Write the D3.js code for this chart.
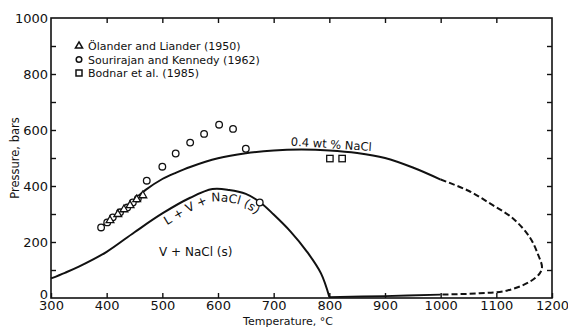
<!DOCTYPE html>
<html><head><meta charset="utf-8">
<script src="https://cdn.jsdelivr.net/npm/d3@7/dist/d3.min.js"></script>
<style>
body{margin:0;background:#fff}
text{font-family:"DejaVu Sans",sans-serif;fill:#111}
</style>
</head><body>
<svg id="c" width="568" height="328"></svg>
<script>
// ---- data ----
const xTickValues=[300,400,500,600,700,800,900,1000,1100,1200];
const yTickLabels=[0,200,400,600,800,1000];
const yTickMarks=[100,200,300,400,500,600,700,800,900];
// 0.4 wt % NaCl curve (solid part)
const upperT=[390,410,430,450,470,500,525,550,600,650,700,750,800,850,900,950,1000];
const upperP=[255,285,318,352,386,425,448,468,499,517,527,530,527,518,500,466,423];
// dashed extension (loop back)
const dashT=[1000,1050,1090,1130,1160,1175,1182,1178,1160,1120,1070,1000];
const dashP=[423,383,336,284,217,155,110,88,58,27,17,12];
// lower solid branch 800-1000
const baseT=[800,900,1000];
const baseP=[3,7,12];
// L + V + NaCl(s) curve
const lowerT=[300,325,350,400,450,500,550,590,620,650,675,700,730,760,785,800];
const lowerP=[70,90,112,165,235,302,358,389,386,372,343,298,238,165,88,4];
// Sourirajan and Kennedy (1962) circles
const circT=[390,401,411,424,437,447,456,472,500,524,550,575,602,627,650,675];
const circP=[252,270,288,306,323,341,355,419,469,516,555,586,619,604,533,341];
// Ölander and Liander (1950) triangles
const triT=[406,420,431,442,454,465];
const triP=[277,299,316,331,352,366];
// Bodnar et al. (1985) squares
const sqT=[801,823];
const sqP=[498,498];
const legendLabels=["Ölander and Liander (1950)","Sourirajan and Kennedy (1962)","Bodnar et al. (1985)"];

// ---- layout ----
const svg=d3.select("#c");
const L=51,R=552,T=18,B=298;
const x=d3.scaleLinear().domain([300,1200]).range([L,R]);
const y=d3.scaleLinear().domain([0,1000]).range([B,T]);

// frame
svg.append("rect").attr("x",L).attr("y",T).attr("width",R-L).attr("height",B-T)
  .attr("fill","none").attr("stroke","#111").attr("stroke-width",1.6);

// axes
svg.append("g").attr("transform",`translate(0,${B})`)
  .call(d3.axisBottom(x).tickValues(xTickValues).tickSizeInner(-5).tickSizeOuter(0).tickPadding(3).tickFormat(d3.format("d")));
const yl=svg.append("g").attr("transform",`translate(${L},0)`)
  .call(d3.axisLeft(y).tickValues(yTickLabels).tickSizeInner(0).tickSizeOuter(0).tickPadding(3).tickFormat(d3.format("d")));
yl.selectAll(".tick text").filter(d=>d===0).attr("dy","0.05em");
svg.append("g").attr("transform",`translate(${L},0)`)
  .call(d3.axisLeft(y).tickValues(yTickMarks).tickSizeInner(-5).tickSizeOuter(0).tickFormat(""));
svg.append("g").attr("transform",`translate(${R},0)`)
  .call(d3.axisRight(y).tickValues(yTickMarks).tickSizeInner(-5).tickSizeOuter(0).tickFormat(""));
svg.append("g").attr("transform",`translate(0,${T})`)
  .call(d3.axisTop(x).tickValues(xTickValues.slice(1,-1)).tickSizeInner(-5).tickSizeOuter(0).tickFormat(""));
svg.selectAll(".domain").remove();
svg.selectAll(".tick line").attr("stroke","#111").attr("stroke-width",1.4);
svg.selectAll(".tick text").attr("font-size",13).attr("font-family","DejaVu Sans").attr("fill","#111");

// axis titles
svg.append("text").attr("x",288).attr("y",325).attr("text-anchor","middle")
  .attr("font-size",11).text("Temperature, °C");
svg.append("text").attr("transform","translate(19,158) rotate(-90)").attr("text-anchor","middle")
  .attr("font-size",11.5).text("Pressure, bars");

// curves
const zip=(a,b)=>a.map((v,i)=>[v,b[i]]);
const lineC=d3.line().x(d=>x(d[0])).y(d=>y(d[1])).curve(d3.curveCatmullRom.alpha(0.5));
const curveG=svg.append("g").attr("fill","none").attr("stroke","#111");
curveG.append("path").attr("d",lineC(zip(upperT,upperP))).attr("stroke-width",2);
curveG.append("path").attr("d",lineC(zip(dashT,dashP))).attr("stroke-width",2).attr("stroke-dasharray","6,3");
curveG.append("path").attr("d",lineC(zip(baseT,baseP))).attr("stroke-width",1.8);
const lowerPts=zip(lowerT,lowerP);
const lowerPath=curveG.append("path").attr("d",lineC(lowerPts)).attr("stroke-width",2);

// markers
const mk=svg.append("g").attr("fill","#fff").attr("stroke","#111").attr("stroke-width",1.3);
mk.selectAll("circle.c").data(zip(circT,circP)).join("circle").attr("class","c")
  .attr("cx",d=>x(d[0])).attr("cy",d=>y(d[1])).attr("r",3.3);
const triSym=d3.symbol().type(d3.symbolTriangle).size(26);
mk.selectAll("path.t").data(zip(triT,triP)).join("path").attr("class","t")
  .attr("transform",d=>`translate(${x(d[0])},${y(d[1])})`).attr("d",triSym());
mk.selectAll("rect.s").data(zip(sqT,sqP)).join("rect").attr("class","s")
  .attr("x",d=>x(d[0])-3.2).attr("y",d=>y(d[1])-3.2).attr("width",6.4).attr("height",6.4);

// legend
const lg=svg.append("g");
const syms=["tri","circ","sq"];
legendLabels.forEach((lab,i)=>{
  const cy=46+i*13.5, cx=79;
  if(syms[i]==="tri") lg.append("path").attr("transform",`translate(${cx},${cy})`).attr("d",d3.symbol().type(d3.symbolTriangle).size(22)())
      .attr("fill","#fff").attr("stroke","#111").attr("stroke-width",1.5);
  if(syms[i]==="circ") lg.append("circle").attr("cx",cx).attr("cy",cy).attr("r",2.8)
      .attr("fill","#fff").attr("stroke","#111").attr("stroke-width",1.5);
  if(syms[i]==="sq") lg.append("rect").attr("x",cx-3).attr("y",cy-3).attr("width",6).attr("height",6)
      .attr("fill","#fff").attr("stroke","#111").attr("stroke-width",1.5);
  lg.append("text").attr("x",88).attr("y",cy+4).attr("font-size",11).text(lab);
});

// region labels
svg.append("text").attr("x",x(560)).attr("y",y(150)).attr("text-anchor","middle")
  .attr("font-size",12).text("V + NaCl (s)");
svg.append("text").attr("transform",`translate(${x(803)},${y(535)}) rotate(4)`).attr("text-anchor","middle")
  .attr("font-size",11.5).text("0.4 wt % NaCl");

// curved label under L+V+NaCl(s) curve: perpendicular offset of the drawn curve
const node=lowerPath.node();
const total=node.getTotalLength();
const off=[]; const OFF=12.5;
for(let l=0;l<=total;l+=2){
  const p=node.getPointAtLength(l), q=node.getPointAtLength(Math.min(total,l+1)), r=node.getPointAtLength(Math.max(0,l-1));
  const dx=q.x-r.x, dy=q.y-r.y, n=Math.hypot(dx,dy)||1;
  off.push([p.x-dy/n*OFF, p.y+dx/n*OFF]);
}
const tp=svg.append("defs").append("path").attr("id","lvpath").attr("d",d3.line().curve(d3.curveLinear)(off));
const tn=tp.node(); let s0=0;
for(let l=0;l<tn.getTotalLength();l+=0.5){ if(tn.getPointAtLength(l).x>=167){s0=l;break;} }
svg.append("text").attr("font-size",12).append("textPath").attr("href","#lvpath")
  .attr("startOffset",s0).text("L + V + NaCl (s)");
</script>
</body></html>
